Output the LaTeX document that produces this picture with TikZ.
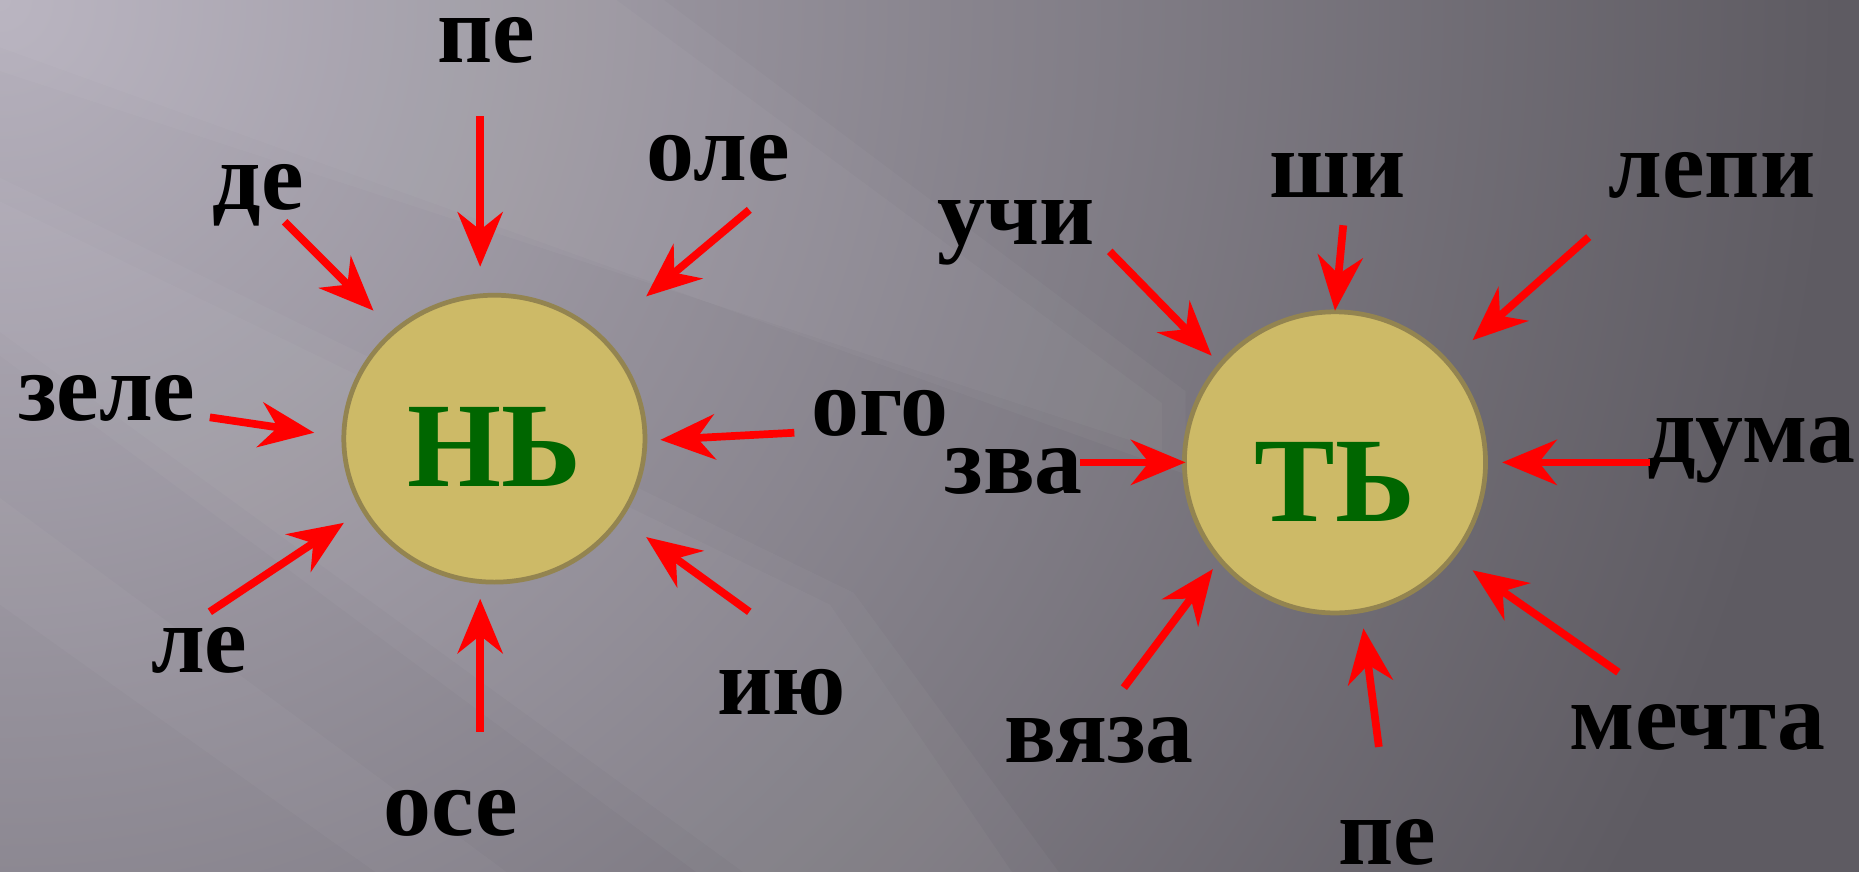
\documentclass[tikz,border=0pt]{standalone}
\usepackage{fontspec}
\setmainfont{Liberation Serif}
\usepackage{tikz}
\usetikzlibrary{arrows.meta,shapes.geometric}

\definecolor{bglight}{HTML}{B6B1BD}
\definecolor{bgdark}{HTML}{5E5B62}
\definecolor{soundfill}{HTML}{CDBA67}
\definecolor{soundline}{HTML}{938450}
\definecolor{lettergreen}{HTML}{006600}

\tikzset{
  sound/.style={ellipse, draw=soundline, line width=0.4mm, fill=soundfill, inner sep=0},
  letter/.style={text=lettergreen, anchor=base, inner sep=0, font=\fontsize{29}{29}\selectfont\bfseries},
  word/.style={text=black, anchor=base, inner sep=0, font=\fontsize{23}{23}\selectfont\bfseries},
  ray/.style={-{Stealth[length=4.6mm,width=3.8mm,inset=1.5mm]}, red, line width=0.65mm},
  streak/.style={white, opacity=0.03},
}

\begin{document}
\begin{tikzpicture}[x=0.1mm,y=-0.1mm]
\useasboundingbox (0,0) rectangle (1568,735);
% background
\fill[bgdark] (-10,-10) rectangle (1578,745);
\begin{scope}
\clip (-10,-10) rectangle (1578,745);
\shade[inner color=bglight, outer color=bgdark] (0,0) circle (1550);
\fill[streak] (0,0) -- (560,0) -- (1000,330) -- (1000,400) -- (0,40) -- cycle;
\fill[streak] (0,0) -- (520,0) -- (980,340) -- (980,380) -- (0,60) -- cycle;
\fill[streak] (0,150) -- (720,500) -- (900,745) -- (600,745) -- (0,300) -- cycle;
\fill[streak] (0,170) -- (700,510) -- (860,745) -- (640,745) -- (0,280) -- cycle;
\fill[streak] (0,420) -- (440,745) -- (330,745) -- (0,510) -- cycle;
\end{scope}

% the two sounds
\node[sound, minimum width=25.4mm, minimum height=24.2mm] (nj) at (417,370) {};
\node[sound, minimum width=25.4mm, minimum height=25.4mm] (tj) at (1126,390) {};
\node[letter] (njt) at (417,410) {НЬ};
\node[letter] (tjt) at (1126,440) {ТЬ};

% words round НЬ
\node[word, text height=1.2ex] (pe1) at (410,53) {пе};
\node[word] (de) at (218,177) {де};
\node[word] (ole) at (606,152) {оле};
\node[word] (zele) at (90,355) {зеле};
\node[word] (ogo) at (742,367) {ого};
\node[word] (le) at (168,567) {ле};
\node[word] (iyu) at (659,603) {ию};
\node[word] (ose) at (380,705) {осе};

% words round ТЬ
\node[word] (shi) at (1128,167) {ши};
\node[word] (uchi) at (857,206) {учи};
\node[word] (lepi) at (1444,167) {лепи};
\node[word] (zva) at (855,416) {зва};
\node[word] (duma) at (1477,390) {дума};
\node[word] (vyaza) at (927,643) {вяза};
\node[word, text depth=0pt] (pe2) at (1170,729) {пе};
\node[word] (mechta) at (1432,632) {мечта};

% arrows to НЬ
\coordinate (pe1-a) at (405,98);   \coordinate (pe1-b) at (405,225);
\coordinate (de-a) at (240,187);   \coordinate (de-b) at (315,262);
\coordinate (ole-a) at (632,177);  \coordinate (ole-b) at (545,250);
\coordinate (zele-a) at (177,352); \coordinate (zele-b) at (265,365);
\coordinate (ogo-a) at (670,365);  \coordinate (ogo-b) at (557,371);
\coordinate (le-a) at (177,516);   \coordinate (le-b) at (290,441);
\coordinate (iyu-a) at (632,516);  \coordinate (iyu-b) at (545,453);
\coordinate (ose-a) at (405,617);  \coordinate (ose-b) at (405,505);
\draw[ray] (pe1-a) -- (pe1-b);
\draw[ray] (de-a) -- (de-b);
\draw[ray] (ole-a) -- (ole-b);
\draw[ray] (zele-a) -- (zele-b);
\draw[ray] (ogo-a) -- (ogo-b);
\draw[ray] (le-a) -- (le-b);
\draw[ray] (iyu-a) -- (iyu-b);
\draw[ray] (ose-a) -- (ose-b);

% arrows to ТЬ
\coordinate (shi-a) at (1133,190);    \coordinate (shi-b) at (1126,262);
\coordinate (uchi-a) at (936,212);    \coordinate (uchi-b) at (1022,300);
\coordinate (lepi-a) at (1340,200);   \coordinate (lepi-b) at (1242,287);
\coordinate (zva-a) at (911,390);     \coordinate (zva-b) at (1000,390);
\coordinate (duma-a) at (1392,390);   \coordinate (duma-b) at (1267,390);
\coordinate (vyaza-a) at (948,580);   \coordinate (vyaza-b) at (1023,480);
\coordinate (pe2-a) at (1163,630);    \coordinate (pe2-b) at (1150,530);
\coordinate (mechta-a) at (1365,567); \coordinate (mechta-b) at (1242,481);
\draw[ray] (shi-a) -- (shi-b);
\draw[ray] (uchi-a) -- (uchi-b);
\draw[ray] (lepi-a) -- (lepi-b);
\draw[ray] (zva-a) -- (zva-b);
\draw[ray] (duma-a) -- (duma-b);
\draw[ray] (vyaza-a) -- (vyaza-b);
\draw[ray] (pe2-a) -- (pe2-b);
\draw[ray] (mechta-a) -- (mechta-b);
\end{tikzpicture}
\end{document}
